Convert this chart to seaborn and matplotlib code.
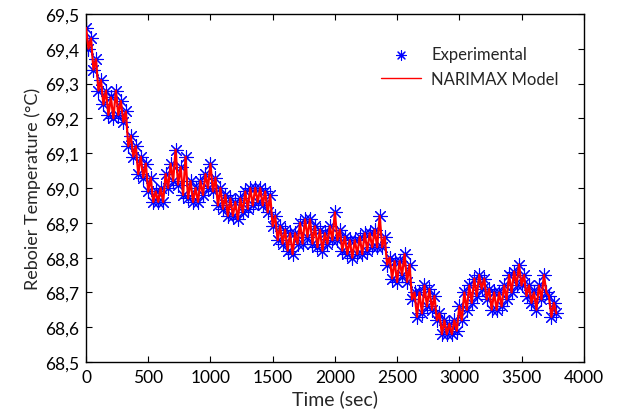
import numpy as np
import pandas as pd
import matplotlib
matplotlib.use("Agg")
import matplotlib.pyplot as plt
import seaborn as sns
from matplotlib.ticker import FuncFormatter, MultipleLocator

# sampling grid (one reading every 20 s)
time_sec = np.arange(0, 3800, 20)

# reboiler temperature, 10 values per 200 s
temp_exp = [
    69.46, 69.40, 69.43, 69.34, 69.37, 69.28, 69.31, 69.24, 69.28, 69.21,
    69.26, 69.20, 69.28, 69.21, 69.25, 69.19, 69.22, 69.12, 69.15, 69.09,
    69.12, 69.04, 69.09, 69.03, 69.07, 68.99, 69.03, 68.96, 68.99, 68.96,
    69.00, 68.96, 69.04, 69.00, 69.07, 69.02, 69.11, 69.01, 69.06, 68.98,
    69.09, 68.97, 69.02, 68.96, 69.00, 68.96, 69.02, 68.98, 69.04, 69.00,
    69.07, 68.99, 69.03, 68.95, 69.00, 68.94, 68.98, 68.92, 68.97, 68.92,
    68.96, 68.91, 68.97, 68.93, 68.99, 68.94, 69.00, 68.95, 69.00, 68.96,
    69.00, 68.95, 68.99, 68.93, 68.98, 68.89, 68.92, 68.85, 68.89, 68.84,
    68.88, 68.82, 68.87, 68.81, 68.87, 68.84, 68.90, 68.84, 68.91, 68.86,
    68.91, 68.84, 68.89, 68.83, 68.88, 68.82, 68.87, 68.84, 68.89, 68.85,
    68.93, 68.85, 68.88, 68.82, 68.86, 68.81, 68.85, 68.80, 68.85, 68.81,
    68.86, 68.81, 68.87, 68.82, 68.87, 68.83, 68.88, 68.83, 68.92, 68.83,
    68.86, 68.78, 68.80, 68.74, 68.79, 68.73, 68.79, 68.75, 68.81, 68.73,
    68.78, 68.68, 68.70, 68.63, 68.70, 68.64, 68.72, 68.66, 68.71, 68.65,
    68.69, 68.62, 68.64, 68.58, 68.62, 68.58, 68.61, 68.58, 68.62, 68.59,
    68.66, 68.62, 68.70, 68.65, 68.72, 68.67, 68.74, 68.69, 68.75, 68.71,
    68.74, 68.68, 68.71, 68.65, 68.70, 68.65, 68.70, 68.66, 68.72, 68.68,
    68.75, 68.70, 68.76, 68.72, 68.78, 68.72, 68.75, 68.69, 68.72, 68.67,
    68.70, 68.65, 68.72, 68.68, 68.75, 68.70, 68.69, 68.63, 68.67, 68.64,
]
# model output tracks the measurements almost exactly
temp_model = temp_exp

df = pd.DataFrame({"Time": time_sec, "Experimental": temp_exp, "Model": temp_model})

sns.set_style("ticks")
plt.rcParams["font.family"] = ["Lato", "DejaVu Sans"]

fig = plt.figure(figsize=(6.21, 4.14), dpi=100)
ax = fig.add_axes([0.1385, 0.123, 0.8015, 0.841])

sns.scatterplot(data=df, x="Time", y="Experimental", ax=ax, marker=(8, 2, 0),
                color="#0000FF", s=95, linewidth=0.8, edgecolor="#0000FF",
                label="Experimental", zorder=2)
sns.lineplot(data=df, x="Time", y="Model", ax=ax, color="#FF0000",
             linewidth=1.6, label="NARIMAX Model", zorder=3)

ax.set_xlim(0, 4000)
ax.set_ylim(68.5, 69.5)
ax.xaxis.set_major_locator(MultipleLocator(500))
ax.yaxis.set_major_locator(MultipleLocator(0.1))
ax.yaxis.set_major_formatter(FuncFormatter(lambda v, p: f"{v:.1f}".replace(".", ",")))
ax.tick_params(direction="in", top=True, right=True, length=4, width=0.8,
               labelsize=12.5, colors="black", pad=5)
for s in ax.spines.values():
    s.set_visible(True)
    s.set_linewidth(1.0)
    s.set_color("black")

ax.set_xlabel("Time (sec)", fontsize=14, labelpad=3)
ax.set_ylabel("Reboier Temperature (°C)", fontsize=13, labelpad=3)

leg = ax.legend(loc="upper right", frameon=False, fontsize=12,
                bbox_to_anchor=(0.98, 0.95), handlelength=2.4, handletextpad=0.6)
for h in leg.legend_handles:
    if hasattr(h, "set_sizes"):
        h.set_sizes([50])
for ln in leg.get_lines():
    ln.set_linewidth(1.0)

fig.savefig("out.png", dpi=100)
